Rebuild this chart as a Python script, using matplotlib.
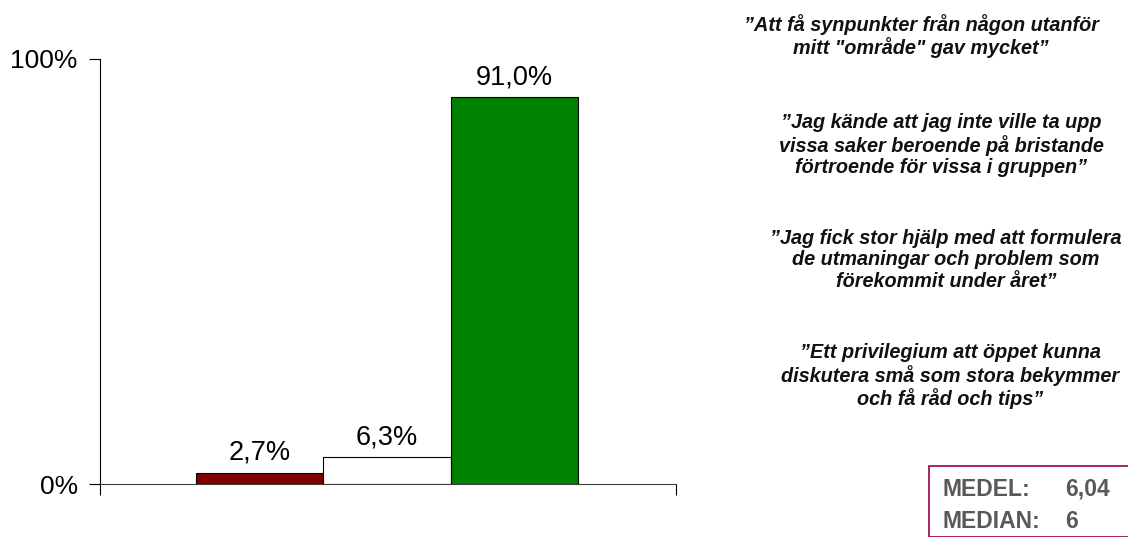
import matplotlib
matplotlib.use("Agg")
import matplotlib.pyplot as plt
from matplotlib.patches import Rectangle

# Response shares for the three answer groups
categories = ["Låg", "Neutral", "Hög"]
shares = [0.027, 0.063, 0.910]
bar_colors = ["#800000", "#FFFFFF", "#008000"]

y_ticks = [0.0, 1.0]
y_tick_labels = ["0%", "100%"]

quotes = [
    "\u201dAtt få synpunkter från någon utanför\nmitt \"område\" gav mycket\u201d",
    "\u201dJag kände att jag inte ville ta upp\nvissa saker beroende på bristande\nförtroende för vissa i gruppen\u201d",
    "\u201dJag fick stor hjälp med att formulera\nde utmaningar och problem som\nförekommit under året\u201d",
    "\u201dEtt privilegium att öppet kunna\ndiskutera små som stora bekymmer\noch få råd och tips\u201d",
]

stat_names = ["MEDEL:", "MEDIAN:"]
stat_values = ["6,04", "6"]

plt.rcParams["font.family"] = ["Liberation Sans", "DejaVu Sans"]

W, H = 1128, 537
fig = plt.figure(figsize=(W / 100, H / 100), dpi=100)
fig.patch.set_facecolor("white")

ax = fig.add_axes([100 / W, 53 / H, 576 / W, 425 / H])
x = list(range(len(categories)))
bars = ax.bar(x, shares, width=1.0, color=bar_colors, edgecolor="black", linewidth=0.8)

for xi, v in zip(x, shares):
    label = f"{v * 100:.1f}".replace(".", ",") + "%"
    ax.annotate(label, (xi, v), xytext=(0, 5), textcoords="offset points",
                ha="center", va="bottom", fontsize=19.5, color="black")

ax.set_ylim(0, 1)
ax.set_xlim(-1.254, 3.27)
ax.set_yticks(y_ticks)
ax.set_yticklabels(y_tick_labels, fontsize=19)
ax.set_xticks([ax.get_xlim()[0], ax.get_xlim()[1]])
ax.set_xticklabels([])
ax.tick_params(axis="y", direction="out", length=8, width=0.8, pad=8)
ax.tick_params(axis="x", direction="out", length=8, width=0.8)
for side in ("top", "right"):
    ax.spines[side].set_visible(False)
ax.spines["left"].set_linewidth(0.8)
ax.spines["bottom"].set_linewidth(0.8)
ax.spines["bottom"].set_color("#404040")

# Participant quotes
quote_pos = [(921, 36), (941, 145), (946, 260), (950, 376)]
for (qx, qy), q in zip(quote_pos, quotes):
    fig.text(qx / W, 1 - qy / H, q, ha="center", va="center", fontsize=14.3,
             fontweight="bold", fontstyle="italic", linespacing=1.16, color="#111111")

# Summary statistics box
fig.patches.append(Rectangle((929 / W, 0), 1, (537 - 466) / H, transform=fig.transFigure,
                             facecolor="white", edgecolor="#99004C", linewidth=1.2))
for i, (n, v) in enumerate(zip(stat_names, stat_values)):
    yy = 1 - (489 + 33 * i) / H
    fig.text(943 / W, yy, n, ha="left", va="center", fontsize=16.5,
             fontweight="bold", color="#595959")
    fig.text(1065 / W, yy, v, ha="left", va="center", fontsize=16.5,
             fontweight="bold", color="#595959")

fig.savefig("out.png", dpi=100)
